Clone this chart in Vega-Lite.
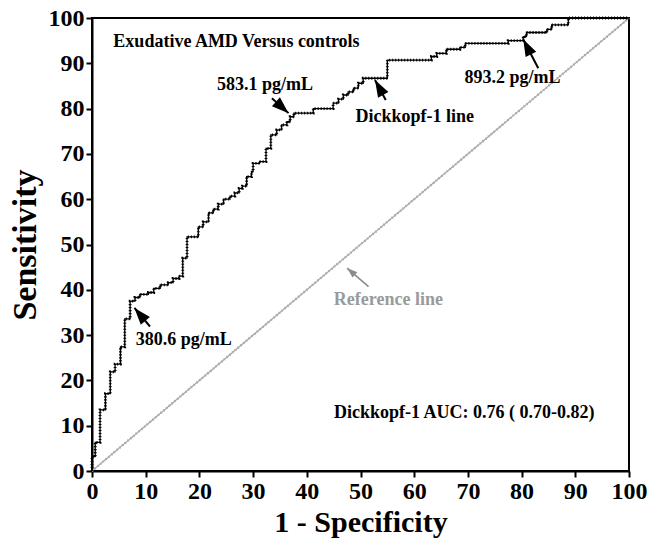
{
  "$schema": "https://vega.github.io/schema/vega-lite/v6.json",
  "autosize": "none",
  "padding": {"left": 92, "top": 18, "right": 19, "bottom": 72},
  "width": 537,
  "height": 453,
  "background": "white",
  "config": {
    "view": {"stroke": "black", "strokeWidth": 2},
    "axis": {
      "domainColor": "black", "domainWidth": 2,
      "tickColor": "black", "tickWidth": 2, "tickSize": 6,
      "labelFont": "Liberation Serif", "labelFontWeight": "bold", "labelFontSize": 24, "labelColor": "black",
      "titleFont": "Liberation Serif", "titleFontWeight": "bold", "titleColor": "black",
      "grid": false, "labelPadding": 2, "labelFlush": false, "labelOverlap": false
    }
  },
  "datasets": {
    "curve": [
      {"fpr": 0, "sens": 0}, {"fpr": 0, "sens": 3.2}, {"fpr": 0.6, "sens": 6.3}, {"fpr": 1.5, "sens": 13.5},
      {"fpr": 2.5, "sens": 17.1}, {"fpr": 3.4, "sens": 21.9}, {"fpr": 4.3, "sens": 23.6}, {"fpr": 5.3, "sens": 27.4},
      {"fpr": 6.1, "sens": 33.6}, {"fpr": 7.1, "sens": 37.5}, {"fpr": 8.0, "sens": 38.3}, {"fpr": 8.9, "sens": 39.0},
      {"fpr": 10.5, "sens": 39.4}, {"fpr": 11.5, "sens": 40.3}, {"fpr": 12.7, "sens": 41.1}, {"fpr": 14.2, "sens": 41.6},
      {"fpr": 15.1, "sens": 42.5}, {"fpr": 16.2, "sens": 43.0}, {"fpr": 16.9, "sens": 47.0}, {"fpr": 17.7, "sens": 51.7},
      {"fpr": 19.8, "sens": 53.9}, {"fpr": 20.7, "sens": 55.0}, {"fpr": 21.7, "sens": 57.0}, {"fpr": 22.6, "sens": 57.8},
      {"fpr": 23.5, "sens": 58.9}, {"fpr": 24.5, "sens": 60.0}, {"fpr": 25.7, "sens": 60.7}, {"fpr": 26.6, "sens": 61.4},
      {"fpr": 27.4, "sens": 62.4}, {"fpr": 28.0, "sens": 62.9}, {"fpr": 28.8, "sens": 65.0}, {"fpr": 29.7, "sens": 66.1},
      {"fpr": 30.0, "sens": 67.9}, {"fpr": 31.2, "sens": 68.3}, {"fpr": 32.4, "sens": 71.2}, {"fpr": 33.3, "sens": 74.2},
      {"fpr": 34.4, "sens": 75.3}, {"fpr": 35.3, "sens": 76.4}, {"fpr": 36.3, "sens": 77.1}, {"fpr": 36.9, "sens": 78.2},
      {"fpr": 37.6, "sens": 79.0}, {"fpr": 41.2, "sens": 80.0}, {"fpr": 44.9, "sens": 81.2}, {"fpr": 45.9, "sens": 82.1},
      {"fpr": 46.8, "sens": 83.0}, {"fpr": 47.7, "sens": 83.7}, {"fpr": 48.7, "sens": 84.5}, {"fpr": 49.6, "sens": 85.6},
      {"fpr": 50.5, "sens": 86.7}, {"fpr": 55.0, "sens": 90.7}, {"fpr": 63.2, "sens": 91.5}, {"fpr": 64.2, "sens": 92.2},
      {"fpr": 66.0, "sens": 93.1}, {"fpr": 68.5, "sens": 93.5}, {"fpr": 69.5, "sens": 94.4}, {"fpr": 77.5, "sens": 95.0},
      {"fpr": 80.3, "sens": 95.9}, {"fpr": 80.9, "sens": 96.8}, {"fpr": 84.7, "sens": 97.5}, {"fpr": 85.6, "sens": 98.5},
      {"fpr": 88.7, "sens": 100}, {"fpr": 100, "sens": 100}
    ],
    "reference": [{"fpr": 0, "sens": 0}, {"fpr": 100, "sens": 100}],
    "arrows": [
      {"id": "a583", "x": 33.5, "y": 82.3, "x2": 36.6, "y2": 79.0},
      {"id": "adkk", "x": 54.7, "y": 81.9, "x2": 52.7, "y2": 86.3},
      {"id": "a893", "x": 83.1, "y": 88.9, "x2": 80.3, "y2": 95.3},
      {"id": "a380", "x": 10.8, "y": 31.9, "x2": 7.9, "y2": 36.0},
      {"id": "aref", "x": 51.5, "y": 40.7, "x2": 47.5, "y2": 44.8}
    ],
    "labels": [
      {"text": "Exudative AMD Versus controls", "x": 26.9, "y": 94.7},
      {"text": "583.1 pg/mL", "x": 32.2, "y": 85.2},
      {"text": "Dickkopf-1 line", "x": 60.1, "y": 78.2},
      {"text": "893.2 pg/mL", "x": 78.3, "y": 86.8},
      {"text": "380.6 pg/mL", "x": 17.1, "y": 28.9},
      {"text": "Dickkopf-1 AUC: 0.76 ( 0.70-0.82)", "x": 69.3, "y": 12.7}
    ],
    "gray": [{"text": "Reference line", "x": 55.2, "y": 37.7}]
  },
  "encoding": {
    "x": {"field": "fpr", "type": "quantitative", "scale": {"domain": [0, 100], "nice": false},
      "axis": {"values": [0, 10, 20, 30, 40, 50, 60, 70, 80, 90, 100], "title": "1 - Specificity", "titleFontSize": 30, "titlePadding": 4}},
    "y": {"field": "sens", "type": "quantitative", "scale": {"domain": [0, 100], "nice": false},
      "axis": {"values": [0, 10, 20, 30, 40, 50, 60, 70, 80, 90, 100], "title": "Sensitivity", "titleFontSize": 34, "titlePadding": 6}}
  },
  "layer": [
    {"data": {"name": "reference"}, "mark": {"type": "line", "color": "#a8a8a8", "strokeWidth": 1.2}},
    {"data": {"name": "reference"}, "mark": {"type": "line", "color": "#a8a8a8", "strokeWidth": 2.6, "strokeDash": [1, 2.6]}},
    {"data": {"name": "curve"}, "mark": {"type": "line", "interpolate": "step-after", "color": "black", "strokeWidth": 1.3}},
    {"data": {"name": "curve"}, "mark": {"type": "line", "interpolate": "step-after", "color": "black", "strokeWidth": 2.8, "strokeDash": [1.1, 1.9]}},
    {"data": {"name": "arrows"}, "transform": [{"filter": "datum.id != 'aref'"}],
      "mark": {"type": "rule", "color": "black", "strokeWidth": 2},
      "encoding": {"x": {"field": "x", "type": "quantitative"}, "y": {"field": "y", "type": "quantitative"},
        "x2": {"field": "x2"}, "y2": {"field": "y2"}}},
    {"data": {"name": "arrows"}, "transform": [{"filter": "datum.id == 'aref'"}],
      "mark": {"type": "rule", "color": "#8c8c8c", "strokeWidth": 1.6},
      "encoding": {"x": {"field": "x", "type": "quantitative"}, "y": {"field": "y", "type": "quantitative"},
        "x2": {"field": "x2"}, "y2": {"field": "y2"}}},
    {"data": {"name": "arrows"}, "transform": [{"filter": "datum.id == 'a583'"}],
      "mark": {"type": "point", "shape": "M0,0L-0.42,1.2L0.42,1.2Z", "filled": true, "opacity": 1, "color": "black", "size": 800, "angle": 132},
      "encoding": {"x": {"field": "x2", "type": "quantitative"}, "y": {"field": "y2", "type": "quantitative"}}},
    {"data": {"name": "arrows"}, "transform": [{"filter": "datum.id == 'adkk'"}],
      "mark": {"type": "point", "shape": "M0,0L-0.42,1.2L0.42,1.2Z", "filled": true, "opacity": 1, "color": "black", "size": 800, "angle": 331},
      "encoding": {"x": {"field": "x2", "type": "quantitative"}, "y": {"field": "y2", "type": "quantitative"}}},
    {"data": {"name": "arrows"}, "transform": [{"filter": "datum.id == 'a893'"}],
      "mark": {"type": "point", "shape": "M0,0L-0.42,1.2L0.42,1.2Z", "filled": true, "opacity": 1, "color": "black", "size": 800, "angle": 333},
      "encoding": {"x": {"field": "x2", "type": "quantitative"}, "y": {"field": "y2", "type": "quantitative"}}},
    {"data": {"name": "arrows"}, "transform": [{"filter": "datum.id == 'a380'"}],
      "mark": {"type": "point", "shape": "M0,0L-0.42,1.2L0.42,1.2Z", "filled": true, "opacity": 1, "color": "black", "size": 800, "angle": 320},
      "encoding": {"x": {"field": "x2", "type": "quantitative"}, "y": {"field": "y2", "type": "quantitative"}}},
    {"data": {"name": "arrows"}, "transform": [{"filter": "datum.id == 'aref'"}],
      "mark": {"type": "point", "shape": "M0,0L-0.42,1.2L0.42,1.2Z", "filled": true, "opacity": 1, "color": "#8c8c8c", "size": 300, "angle": 311},
      "encoding": {"x": {"field": "x2", "type": "quantitative"}, "y": {"field": "y2", "type": "quantitative"}}},
    {"data": {"name": "labels"},
      "mark": {"type": "text", "font": "Liberation Serif", "fontWeight": "bold", "fontSize": 18, "color": "black", "align": "center", "baseline": "middle"},
      "encoding": {"x": {"field": "x", "type": "quantitative"}, "y": {"field": "y", "type": "quantitative"}, "text": {"field": "text"}}},
    {"data": {"name": "gray"},
      "mark": {"type": "text", "font": "Liberation Serif", "fontWeight": "bold", "fontSize": 18, "color": "#9a9a9a", "align": "center", "baseline": "middle"},
      "encoding": {"x": {"field": "x", "type": "quantitative"}, "y": {"field": "y", "type": "quantitative"}, "text": {"field": "text"}}}
  ]
}
